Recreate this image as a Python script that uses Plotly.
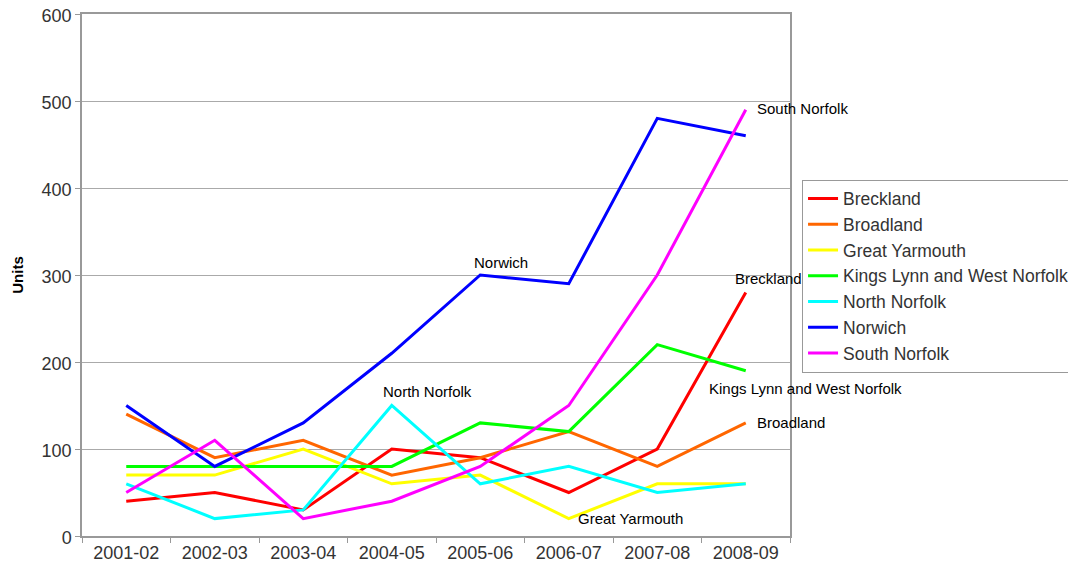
import plotly.graph_objects as go

categories = ["2001-02", "2002-03", "2003-04", "2004-05", "2005-06", "2006-07", "2007-08", "2008-09"]

breckland = [40, 50, 30, 100, 90, 50, 100, 280]
broadland = [140, 90, 110, 70, 90, 120, 80, 130]
great_yarmouth = [70, 70, 100, 60, 70, 20, 60, 60]
kings_lynn = [80, 80, 80, 80, 130, 120, 220, 190]
north_norfolk = [60, 20, 30, 150, 60, 80, 50, 60]
norwich = [150, 80, 130, 210, 300, 290, 480, 460]
south_norfolk = [50, 110, 20, 40, 80, 150, 300, 490]

series = [
    ("Breckland", breckland, "#FF0000"),
    ("Broadland", broadland, "#FF6600"),
    ("Great Yarmouth", great_yarmouth, "#FFFF00"),
    ("Kings Lynn and West Norfolk", kings_lynn, "#00FF00"),
    ("North Norfolk", north_norfolk, "#00FFFF"),
    ("Norwich", norwich, "#0000FF"),
    ("South Norfolk", south_norfolk, "#FF00FF"),
]

FONT = "Liberation Sans, Arial, sans-serif"

fig = go.Figure()
for name, vals, color in series:
    fig.add_trace(go.Scatter(
        x=categories, y=vals, mode="lines", name=name,
        line=dict(color=color, width=3),
    ))

# labels: (text, category index, series values, xshift, yshift)
labels = [
    ("South Norfolk", 7, south_norfolk, 9, 1),
    ("Norwich", 4, norwich, -8, 13),
    ("Breckland", 7, breckland, -13, 14),
    ("Kings Lynn and West Norfolk", 7, kings_lynn, -39, -18),
    ("Broadland", 7, broadland, 9, 0),
    ("North Norfolk", 3, north_norfolk, -11, 14),
    ("Great Yarmouth", 5, great_yarmouth, 7, 0),
]
for text, idx, vals, xs, ys in labels:
    fig.add_annotation(
        x=categories[idx], y=vals[idx], text=text, showarrow=False,
        xanchor="left", yanchor="middle", xshift=xs, yshift=ys,
        font=dict(family=FONT, size=15, color="#000000"),
    )

fig.update_layout(
    width=1068, height=563,
    margin=dict(l=74, r=286, t=6, b=35, autoexpand=False),
    paper_bgcolor="white", plot_bgcolor="white",
    font=dict(family=FONT, size=18, color="#333333"),
    showlegend=True,
    legend=dict(
        x=1.017, xanchor="left", y=0.498, yanchor="middle",
        bordercolor="#999999", borderwidth=1,
        font=dict(family=FONT, size=17.5, color="#333333"),
        tracegroupgap=0, itemwidth=30,
    ),
    xaxis=dict(
        type="category", range=[-0.5, 7.5], automargin=False,
        showline=True, linecolor="#999999", linewidth=1.5, mirror=True,
        ticks="outside", tickson="boundaries", ticklen=5, tickcolor="#999999",
        showgrid=False, tickfont=dict(family=FONT, size=18, color="#333333"),
    ),
    yaxis=dict(
        range=[0, 600], dtick=100, automargin=False, ticklabeloverflow="allow",
        ticklabelshift=2,
        showline=True, linecolor="#999999", linewidth=1.5, mirror=True,
        ticks="outside", ticklen=5, tickcolor="#999999",
        showgrid=True, gridcolor="#AAAAAA", gridwidth=1,
        zeroline=False,
        tickfont=dict(family=FONT, size=18, color="#333333"),
        title=dict(text="<b>Units</b>", font=dict(family=FONT, size=15, color="#000000"), standoff=14),
    ),
)

fig.write_html("out.html")
